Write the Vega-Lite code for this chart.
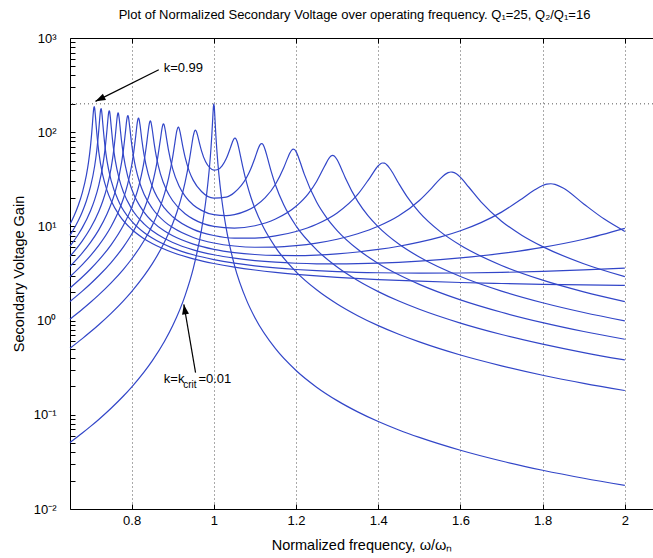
{
  "$schema": "https://vega.github.io/schema/vega-lite/v6.json",
  "width": 583,
  "height": 471,
  "autosize": "none",
  "padding": {"left": 70, "top": 38, "right": 0, "bottom": 49},
  "background": "white",
  "title": {
    "text": "Plot of Normalized Secondary Voltage over operating frequency.  Q₁=25, Q₂/Q₁=16",
    "font": "Liberation Sans", "fontSize": 13, "fontWeight": "normal", "color": "black",
    "anchor": "middle", "frame": "group", "offset": 10, "dx": -7
  },
  "config": {
    "view": {"stroke": null},
    "font": "Liberation Sans",
    "axis": {
      "domainColor": "black", "tickColor": "black", "labelColor": "black", "titleColor": "black",
      "labelFont": "Liberation Sans", "titleFont": "Liberation Sans",
      "titleFontWeight": "normal", "labelFontSize": 13, "titleFontSize": 14.5
    }
  },
  "datasets": {
    "curves": [
      {"k":"0.01","w":0.65,"G":0.0507},{"k":"0.01","w":0.68,"G":0.064},{"k":"0.01","w":0.70,"G":0.0753},{"k":"0.01","w":0.72,"G":0.0893},{"k":"0.01","w":0.75,"G":0.1174},{"k":"0.01","w":0.78,"G":0.1584},{"k":"0.01","w":0.80,"G":0.1971},{"k":"0.01","w":0.83,"G":0.2838},{"k":"0.01","w":0.85,"G":0.3735},{"k":"0.01","w":0.88,"G":0.6036},{"k":"0.01","w":0.90,"G":0.886},{"k":"0.01","w":0.93,"G":1.843},{"k":"0.01","w":0.95,"G":3.586},{"k":"0.01","w":0.97,"G":9.24},{"k":"0.01","w":0.98,"G":18.05},{"k":"0.01","w":0.985,"G":27.5},{"k":"0.01","w":0.99,"G":45.9},{"k":"0.01","w":0.993,"G":67.5},{"k":"0.01","w":0.995,"G":92.0},{"k":"0.01","w":0.997,"G":132.4},{"k":"0.01","w":0.998,"G":160.1},{"k":"0.01","w":0.999,"G":187.6},{"k":"0.01","w":1.0,"G":200},{"k":"0.01","w":1.001,"G":186.9},{"k":"0.01","w":1.002,"G":159.2},{"k":"0.01","w":1.003,"G":131.5},{"k":"0.01","w":1.005,"G":91.3},{"k":"0.01","w":1.007,"G":67.0},{"k":"0.01","w":1.01,"G":45.7},{"k":"0.01","w":1.015,"G":27.5},{"k":"0.01","w":1.02,"G":18.26},{"k":"0.01","w":1.03,"G":9.57},{"k":"0.01","w":1.05,"G":3.89},{"k":"0.01","w":1.08,"G":1.63},{"k":"0.01","w":1.10,"G":1.073},{"k":"0.01","w":1.15,"G":0.503},{"k":"0.01","w":1.20,"G":0.2953},{"k":"0.01","w":1.25,"G":0.1965},{"k":"0.01","w":1.30,"G":0.1414},{"k":"0.01","w":1.35,"G":0.1074},{"k":"0.01","w":1.40,"G":0.0848},{"k":"0.01","w":1.45,"G":0.069},{"k":"0.01","w":1.50,"G":0.0575},{"k":"0.01","w":1.60,"G":0.042},{"k":"0.01","w":1.70,"G":0.0323},{"k":"0.01","w":1.80,"G":0.0258},{"k":"0.01","w":1.90,"G":0.0212},{"k":"0.01","w":2.00,"G":0.0178},

      {"k":"0.1","w":0.65,"G":0.509},{"k":"0.1","w":0.68,"G":0.644},{"k":"0.1","w":0.70,"G":0.760},{"k":"0.1","w":0.72,"G":0.904},{"k":"0.1","w":0.75,"G":1.194},{"k":"0.1","w":0.78,"G":1.623},{"k":"0.1","w":0.80,"G":2.034},{"k":"0.1","w":0.83,"G":2.981},{"k":"0.1","w":0.85,"G":4.001},{"k":"0.1","w":0.88,"G":6.816},{"k":"0.1","w":0.90,"G":10.73},{"k":"0.1","w":0.91,"G":14.14},{"k":"0.1","w":0.92,"G":19.6},{"k":"0.1","w":0.93,"G":29.33},{"k":"0.1","w":0.94,"G":49.4},{"k":"0.1","w":0.945,"G":67.5},{"k":"0.1","w":0.95,"G":91.3},{"k":"0.1","w":0.954,"G":104.4},{"k":"0.1","w":0.955,"G":105.0},{"k":"0.1","w":0.956,"G":104.5},{"k":"0.1","w":0.958,"G":100.5},{"k":"0.1","w":0.96,"G":94.1},{"k":"0.1","w":0.965,"G":76.6},{"k":"0.1","w":0.97,"G":63.4},{"k":"0.1","w":0.98,"G":48.5},{"k":"0.1","w":0.99,"G":42.0},{"k":"0.1","w":1.00,"G":39.6},{"k":"0.1","w":1.01,"G":40.2},{"k":"0.1","w":1.02,"G":43.9},{"k":"0.1","w":1.03,"G":52.2},{"k":"0.1","w":1.04,"G":67.8},{"k":"0.1","w":1.045,"G":78.4},{"k":"0.1","w":1.05,"G":86.2},{"k":"0.1","w":1.0515,"G":86.7},{"k":"0.1","w":1.054,"G":84.8},{"k":"0.1","w":1.057,"G":78.6},{"k":"0.1","w":1.06,"G":70.0},{"k":"0.1","w":1.065,"G":55.4},{"k":"0.1","w":1.07,"G":43.7},{"k":"0.1","w":1.08,"G":28.8},{"k":"0.1","w":1.09,"G":20.52},{"k":"0.1","w":1.10,"G":15.49},{"k":"0.1","w":1.12,"G":9.90},{"k":"0.1","w":1.15,"G":6.00},{"k":"0.1","w":1.20,"G":3.296},{"k":"0.1","w":1.25,"G":2.125},{"k":"0.1","w":1.30,"G":1.502},{"k":"0.1","w":1.35,"G":1.128},{"k":"0.1","w":1.40,"G":0.884},{"k":"0.1","w":1.45,"G":0.716},{"k":"0.1","w":1.50,"G":0.594},{"k":"0.1","w":1.60,"G":0.431},{"k":"0.1","w":1.70,"G":0.331},{"k":"0.1","w":1.80,"G":0.263},{"k":"0.1","w":1.90,"G":0.216},{"k":"0.1","w":2.00,"G":0.181},

      {"k":"0.2","w":0.65,"G":1.035},{"k":"0.2","w":0.68,"G":1.318},{"k":"0.2","w":0.70,"G":1.564},{"k":"0.2","w":0.72,"G":1.873},{"k":"0.2","w":0.75,"G":2.514},{"k":"0.2","w":0.78,"G":3.505},{"k":"0.2","w":0.80,"G":4.507},{"k":"0.2","w":0.83,"G":7.04},{"k":"0.2","w":0.85,"G":10.19},{"k":"0.2","w":0.865,"G":14.35},{"k":"0.2","w":0.88,"G":22.24},{"k":"0.2","w":0.89,"G":32.7},{"k":"0.2","w":0.90,"G":55.0},{"k":"0.2","w":0.905,"G":76.2},{"k":"0.2","w":0.91,"G":103.7},{"k":"0.2","w":0.913,"G":113.1},{"k":"0.2","w":0.914,"G":113.1},{"k":"0.2","w":0.915,"G":111.4},{"k":"0.2","w":0.918,"G":99.7},{"k":"0.2","w":0.92,"G":89.8},{"k":"0.2","w":0.925,"G":68.4},{"k":"0.2","w":0.93,"G":54.3},{"k":"0.2","w":0.94,"G":38.65},{"k":"0.2","w":0.95,"G":30.8},{"k":"0.2","w":0.97,"G":23.45},{"k":"0.2","w":1.00,"G":19.95},{"k":"0.2","w":1.03,"G":20.44},{"k":"0.2","w":1.05,"G":22.89},{"k":"0.2","w":1.08,"G":33.2},{"k":"0.2","w":1.09,"G":40.88},{"k":"0.2","w":1.10,"G":53.3},{"k":"0.2","w":1.11,"G":70.3},{"k":"0.2","w":1.113,"G":74.2},{"k":"0.2","w":1.116,"G":75.8},{"k":"0.2","w":1.118,"G":75.3},{"k":"0.2","w":1.122,"G":70.5},{"k":"0.2","w":1.125,"G":64.8},{"k":"0.2","w":1.13,"G":54.35},{"k":"0.2","w":1.14,"G":37.7},{"k":"0.2","w":1.15,"G":27.5},{"k":"0.2","w":1.17,"G":16.95},{"k":"0.2","w":1.20,"G":10.13},{"k":"0.2","w":1.25,"G":5.64},{"k":"0.2","w":1.30,"G":3.705},{"k":"0.2","w":1.35,"G":2.665},{"k":"0.2","w":1.40,"G":2.032},{"k":"0.2","w":1.45,"G":1.613},{"k":"0.2","w":1.50,"G":1.319},{"k":"0.2","w":1.60,"G":0.941},{"k":"0.2","w":1.70,"G":0.712},{"k":"0.2","w":1.80,"G":0.563},{"k":"0.2","w":1.90,"G":0.458},{"k":"0.2","w":2.00,"G":0.382},

      {"k":"0.3","w":0.65,"G":1.596},{"k":"0.3","w":0.68,"G":2.055},{"k":"0.3","w":0.70,"G":2.463},{"k":"0.3","w":0.72,"G":2.991},{"k":"0.3","w":0.75,"G":4.135},{"k":"0.3","w":0.78,"G":6.063},{"k":"0.3","w":0.80,"G":8.24},{"k":"0.3","w":0.83,"G":15.09},{"k":"0.3","w":0.85,"G":27.8},{"k":"0.3","w":0.86,"G":43.8},{"k":"0.3","w":0.87,"G":83.9},{"k":"0.3","w":0.875,"G":116.1},{"k":"0.3","w":0.877,"G":122.3},{"k":"0.3","w":0.878,"G":122.1},{"k":"0.3","w":0.879,"G":119.6},{"k":"0.3","w":0.882,"G":103.7},{"k":"0.3","w":0.885,"G":85.6},{"k":"0.3","w":0.89,"G":63.2},{"k":"0.3","w":0.90,"G":40.6},{"k":"0.3","w":0.915,"G":27.07},{"k":"0.3","w":0.93,"G":21.0},{"k":"0.3","w":0.95,"G":16.9},{"k":"0.3","w":0.97,"G":14.8},{"k":"0.3","w":1.00,"G":13.32},{"k":"0.3","w":1.03,"G":13.03},{"k":"0.3","w":1.05,"G":13.35},{"k":"0.3","w":1.08,"G":14.69},{"k":"0.3","w":1.10,"G":16.41},{"k":"0.3","w":1.125,"G":20.21},{"k":"0.3","w":1.15,"G":28.06},{"k":"0.3","w":1.17,"G":41.95},{"k":"0.3","w":1.18,"G":53.7},{"k":"0.3","w":1.185,"G":60.1},{"k":"0.3","w":1.19,"G":65.0},{"k":"0.3","w":1.193,"G":66.1},{"k":"0.3","w":1.196,"G":65.6},{"k":"0.3","w":1.20,"G":62.2},{"k":"0.3","w":1.205,"G":55.5},{"k":"0.3","w":1.21,"G":48.2},{"k":"0.3","w":1.22,"G":35.9},{"k":"0.3","w":1.25,"G":18.13},{"k":"0.3","w":1.275,"G":12.25},{"k":"0.3","w":1.30,"G":9.04},{"k":"0.3","w":1.35,"G":5.716},{"k":"0.3","w":1.40,"G":4.048},{"k":"0.3","w":1.45,"G":3.065},{"k":"0.3","w":1.50,"G":2.426},{"k":"0.3","w":1.60,"G":1.660},{"k":"0.3","w":1.70,"G":1.226},{"k":"0.3","w":1.80,"G":0.952},{"k":"0.3","w":1.90,"G":0.766},{"k":"0.3","w":2.00,"G":0.634},

      {"k":"0.4","w":0.65,"G":2.216},{"k":"0.4","w":0.68,"G":2.901},{"k":"0.4","w":0.70,"G":3.533},{"k":"0.4","w":0.72,"G":4.384},{"k":"0.4","w":0.75,"G":6.377},{"k":"0.4","w":0.78,"G":10.29},{"k":"0.4","w":0.80,"G":15.81},{"k":"0.4","w":0.82,"G":29.74},{"k":"0.4","w":0.83,"G":48.5},{"k":"0.4","w":0.835,"G":67.6},{"k":"0.4","w":0.84,"G":100.4},{"k":"0.4","w":0.843,"G":123.6},{"k":"0.4","w":0.845,"G":131.6},{"k":"0.4","w":0.846,"G":131.2},{"k":"0.4","w":0.847,"G":127.8},{"k":"0.4","w":0.85,"G":107.5},{"k":"0.4","w":0.855,"G":74.8},{"k":"0.4","w":0.86,"G":55.3},{"k":"0.4","w":0.87,"G":36.1},{"k":"0.4","w":0.885,"G":24.23},{"k":"0.4","w":0.90,"G":18.71},{"k":"0.4","w":0.93,"G":13.62},{"k":"0.4","w":0.95,"G":11.94},{"k":"0.4","w":1.00,"G":9.99},{"k":"0.4","w":1.05,"G":9.58},{"k":"0.4","w":1.10,"G":10.16},{"k":"0.4","w":1.15,"G":11.96},{"k":"0.4","w":1.20,"G":16.34},{"k":"0.4","w":1.23,"G":22.3},{"k":"0.4","w":1.25,"G":30.0},{"k":"0.4","w":1.27,"G":44.0},{"k":"0.4","w":1.28,"G":52.75},{"k":"0.4","w":1.285,"G":55.8},{"k":"0.4","w":1.289,"G":56.7},{"k":"0.4","w":1.293,"G":55.85},{"k":"0.4","w":1.30,"G":51.0},{"k":"0.4","w":1.31,"G":41.2},{"k":"0.4","w":1.32,"G":32.7},{"k":"0.4","w":1.35,"G":18.44},{"k":"0.4","w":1.375,"G":13.02},{"k":"0.4","w":1.40,"G":9.90},{"k":"0.4","w":1.45,"G":6.504},{"k":"0.4","w":1.50,"G":4.728},{"k":"0.4","w":1.60,"G":2.937},{"k":"0.4","w":1.70,"G":2.058},{"k":"0.4","w":1.80,"G":1.547},{"k":"0.4","w":1.90,"G":1.218},{"k":"0.4","w":2.00,"G":0.991},

      {"k":"0.5","w":0.65,"G":2.923},{"k":"0.5","w":0.68,"G":3.922},{"k":"0.5","w":0.70,"G":4.892},{"k":"0.5","w":0.72,"G":6.281},{"k":"0.5","w":0.75,"G":9.977},{"k":"0.5","w":0.77,"G":15.11},{"k":"0.5","w":0.78,"G":19.75},{"k":"0.5","w":0.79,"G":27.7},{"k":"0.5","w":0.80,"G":44.3},{"k":"0.5","w":0.805,"G":61.1},{"k":"0.5","w":0.81,"G":91.8},{"k":"0.5","w":0.814,"G":128.4},{"k":"0.5","w":0.816,"G":140.4},{"k":"0.5","w":0.817,"G":140.9},{"k":"0.5","w":0.818,"G":137.5},{"k":"0.5","w":0.82,"G":122.4},{"k":"0.5","w":0.825,"G":81.7},{"k":"0.5","w":0.83,"G":58.1},{"k":"0.5","w":0.84,"G":36.3},{"k":"0.5","w":0.85,"G":26.65},{"k":"0.5","w":0.88,"G":15.59},{"k":"0.5","w":0.90,"G":12.64},{"k":"0.5","w":0.95,"G":9.29},{"k":"0.5","w":1.00,"G":8.00},{"k":"0.5","w":1.05,"G":7.51},{"k":"0.5","w":1.10,"G":7.51},{"k":"0.5","w":1.15,"G":7.92},{"k":"0.5","w":1.20,"G":8.83},{"k":"0.5","w":1.25,"G":10.54},{"k":"0.5","w":1.30,"G":13.89},{"k":"0.5","w":1.35,"G":21.85},{"k":"0.5","w":1.38,"G":33.0},{"k":"0.5","w":1.40,"G":44.0},{"k":"0.5","w":1.405,"G":46.1},{"k":"0.5","w":1.41,"G":47.1},{"k":"0.5","w":1.415,"G":46.9},{"k":"0.5","w":1.42,"G":45.5},{"k":"0.5","w":1.43,"G":40.2},{"k":"0.5","w":1.45,"G":28.5},{"k":"0.5","w":1.47,"G":20.7},{"k":"0.5","w":1.50,"G":14.08},{"k":"0.5","w":1.55,"G":8.85},{"k":"0.5","w":1.60,"G":6.30},{"k":"0.5","w":1.70,"G":3.850},{"k":"0.5","w":1.80,"G":2.687},{"k":"0.5","w":1.90,"G":2.019},{"k":"0.5","w":2.00,"G":1.592},

      {"k":"0.6","w":0.65,"G":3.764},{"k":"0.6","w":0.68,"G":5.228},{"k":"0.6","w":0.70,"G":6.760},{"k":"0.6","w":0.72,"G":9.176},{"k":"0.6","w":0.74,"G":13.51},{"k":"0.6","w":0.75,"G":17.27},{"k":"0.6","w":0.76,"G":23.42},{"k":"0.6","w":0.77,"G":35.2},{"k":"0.6","w":0.78,"G":65.0},{"k":"0.6","w":0.785,"G":101.5},{"k":"0.6","w":0.788,"G":134.1},{"k":"0.6","w":0.79,"G":149.4},{"k":"0.6","w":0.791,"G":150.3},{"k":"0.6","w":0.792,"G":146.0},{"k":"0.6","w":0.795,"G":116.7},{"k":"0.6","w":0.80,"G":75.3},{"k":"0.6","w":0.805,"G":53.6},{"k":"0.6","w":0.81,"G":41.5},{"k":"0.6","w":0.82,"G":28.7},{"k":"0.6","w":0.83,"G":22.1},{"k":"0.6","w":0.85,"G":15.58},{"k":"0.6","w":0.88,"G":11.25},{"k":"0.6","w":0.90,"G":9.71},{"k":"0.6","w":0.95,"G":7.63},{"k":"0.6","w":1.00,"G":6.665},{"k":"0.6","w":1.05,"G":6.19},{"k":"0.6","w":1.10,"G":6.01},{"k":"0.6","w":1.15,"G":6.03},{"k":"0.6","w":1.20,"G":6.24},{"k":"0.6","w":1.25,"G":6.65},{"k":"0.6","w":1.30,"G":7.31},{"k":"0.6","w":1.35,"G":8.36},{"k":"0.6","w":1.40,"G":10.04},{"k":"0.6","w":1.45,"G":12.97},{"k":"0.6","w":1.50,"G":18.84},{"k":"0.6","w":1.53,"G":25.5},{"k":"0.6","w":1.55,"G":31.8},{"k":"0.6","w":1.57,"G":37.2},{"k":"0.6","w":1.577,"G":37.8},{"k":"0.6","w":1.58,"G":37.7},{"k":"0.6","w":1.59,"G":36.2},{"k":"0.6","w":1.60,"G":33.2},{"k":"0.6","w":1.62,"G":26.2},{"k":"0.6","w":1.65,"G":18.23},{"k":"0.6","w":1.70,"G":11.36},{"k":"0.6","w":1.75,"G":8.02},{"k":"0.6","w":1.80,"G":6.10},{"k":"0.6","w":1.90,"G":4.017},{"k":"0.6","w":2.00,"G":2.928},

      {"k":"0.7","w":0.65,"G":4.804},{"k":"0.7","w":0.68,"G":7.017},{"k":"0.7","w":0.70,"G":9.607},{"k":"0.7","w":0.72,"G":14.40},{"k":"0.7","w":0.73,"G":18.72},{"k":"0.7","w":0.74,"G":26.14},{"k":"0.7","w":0.75,"G":41.65},{"k":"0.7","w":0.755,"G":57.7},{"k":"0.7","w":0.76,"G":89.0},{"k":"0.7","w":0.763,"G":121.9},{"k":"0.7","w":0.765,"G":147.2},{"k":"0.7","w":0.766,"G":156.4},{"k":"0.7","w":0.767,"G":160.0},{"k":"0.7","w":0.768,"G":156.9},{"k":"0.7","w":0.77,"G":136.4},{"k":"0.7","w":0.773,"G":101.2},{"k":"0.7","w":0.775,"G":83.7},{"k":"0.7","w":0.78,"G":57.1},{"k":"0.7","w":0.79,"G":34.55},{"k":"0.7","w":0.80,"G":24.95},{"k":"0.7","w":0.83,"G":14.17},{"k":"0.7","w":0.85,"G":11.30},{"k":"0.7","w":0.88,"G":8.92},{"k":"0.7","w":0.90,"G":7.945},{"k":"0.7","w":0.95,"G":6.485},{"k":"0.7","w":1.00,"G":5.713},{"k":"0.7","w":1.05,"G":5.275},{"k":"0.7","w":1.10,"G":5.031},{"k":"0.7","w":1.15,"G":4.916},{"k":"0.7","w":1.20,"G":4.898},{"k":"0.7","w":1.25,"G":4.966},{"k":"0.7","w":1.30,"G":5.116},{"k":"0.7","w":1.35,"G":5.352},{"k":"0.7","w":1.40,"G":5.690},{"k":"0.7","w":1.45,"G":6.158},{"k":"0.7","w":1.50,"G":6.801},{"k":"0.7","w":1.55,"G":7.700},{"k":"0.7","w":1.60,"G":8.998},{"k":"0.7","w":1.65,"G":10.97},{"k":"0.7","w":1.70,"G":14.18},{"k":"0.7","w":1.75,"G":19.70},{"k":"0.7","w":1.78,"G":24.34},{"k":"0.7","w":1.80,"G":27.19},{"k":"0.7","w":1.81,"G":28.07},{"k":"0.7","w":1.82,"G":28.37},{"k":"0.7","w":1.83,"G":27.99},{"k":"0.7","w":1.85,"G":25.57},{"k":"0.7","w":1.90,"G":17.31},{"k":"0.7","w":1.95,"G":11.95},{"k":"0.7","w":2.00,"G":8.849},

      {"k":"0.8","w":0.65,"G":6.160},{"k":"0.8","w":0.67,"G":8.207},{"k":"0.8","w":0.68,"G":9.702},{"k":"0.8","w":0.70,"G":14.66},{"k":"0.8","w":0.71,"G":19.22},{"k":"0.8","w":0.72,"G":27.26},{"k":"0.8","w":0.73,"G":44.98},{"k":"0.8","w":0.735,"G":64.6},{"k":"0.8","w":0.74,"G":106.1},{"k":"0.8","w":0.742,"G":133.6},{"k":"0.8","w":0.744,"G":161.3},{"k":"0.8","w":0.745,"G":168.7},{"k":"0.8","w":0.746,"G":167.9},{"k":"0.8","w":0.748,"G":146.2},{"k":"0.8","w":0.75,"G":117.9},{"k":"0.8","w":0.755,"G":72.0},{"k":"0.8","w":0.76,"G":50.5},{"k":"0.8","w":0.77,"G":31.5},{"k":"0.8","w":0.78,"G":23.12},{"k":"0.8","w":0.80,"G":15.41},{"k":"0.8","w":0.83,"G":10.64},{"k":"0.8","w":0.85,"G":8.99},{"k":"0.8","w":0.88,"G":7.44},{"k":"0.8","w":0.90,"G":6.752},{"k":"0.8","w":0.95,"G":5.642},{"k":"0.8","w":1.00,"G":4.999},{"k":"0.8","w":1.05,"G":4.597},{"k":"0.8","w":1.10,"G":4.336},{"k":"0.8","w":1.15,"G":4.167},{"k":"0.8","w":1.20,"G":4.065},{"k":"0.8","w":1.25,"G":4.010},{"k":"0.8","w":1.30,"G":3.997},{"k":"0.8","w":1.35,"G":4.019},{"k":"0.8","w":1.40,"G":4.074},{"k":"0.8","w":1.50,"G":4.280},{"k":"0.8","w":1.60,"G":4.630},{"k":"0.8","w":1.70,"G":5.169},{"k":"0.8","w":1.80,"G":5.994},{"k":"0.8","w":1.90,"G":7.305},{"k":"0.8","w":2.00,"G":9.536},

      {"k":"0.9","w":0.65,"G":8.040},{"k":"0.9","w":0.67,"G":11.47},{"k":"0.9","w":0.68,"G":14.32},{"k":"0.9","w":0.69,"G":18.74},{"k":"0.9","w":0.70,"G":26.55},{"k":"0.9","w":0.71,"G":43.8},{"k":"0.9","w":0.715,"G":63.1},{"k":"0.9","w":0.72,"G":105.1},{"k":"0.9","w":0.722,"G":134.7},{"k":"0.9","w":0.724,"G":167.5},{"k":"0.9","w":0.725,"G":177.4},{"k":"0.9","w":0.726,"G":177.6},{"k":"0.9","w":0.728,"G":152.8},{"k":"0.9","w":0.73,"G":120.7},{"k":"0.9","w":0.735,"G":71.6},{"k":"0.9","w":0.74,"G":49.7},{"k":"0.9","w":0.75,"G":30.8},{"k":"0.9","w":0.77,"G":17.86},{"k":"0.9","w":0.80,"G":11.38},{"k":"0.9","w":0.83,"G":8.62},{"k":"0.9","w":0.85,"G":7.52},{"k":"0.9","w":0.90,"G":5.886},{"k":"0.9","w":0.95,"G":4.996},{"k":"0.9","w":1.00,"G":4.444},{"k":"0.9","w":1.05,"G":4.074},{"k":"0.9","w":1.10,"G":3.815},{"k":"0.9","w":1.15,"G":3.627},{"k":"0.9","w":1.20,"G":3.488},{"k":"0.9","w":1.25,"G":3.386},{"k":"0.9","w":1.30,"G":3.310},{"k":"0.9","w":1.40,"G":3.219},{"k":"0.9","w":1.50,"G":3.187},{"k":"0.9","w":1.60,"G":3.200},{"k":"0.9","w":1.70,"G":3.249},{"k":"0.9","w":1.80,"G":3.332},{"k":"0.9","w":1.90,"G":3.450},{"k":"0.9","w":2.00,"G":3.605},

      {"k":"0.99","w":0.65,"G":10.53},{"k":"0.99","w":0.66,"G":12.97},{"k":"0.99","w":0.67,"G":16.66},{"k":"0.99","w":0.68,"G":22.85},{"k":"0.99","w":0.69,"G":35.3},{"k":"0.99","w":0.695,"G":47.8},{"k":"0.99","w":0.70,"G":72.0},{"k":"0.99","w":0.703,"G":100.1},{"k":"0.99","w":0.705,"G":129.7},{"k":"0.99","w":0.707,"G":167.0},{"k":"0.99","w":0.708,"G":182.1},{"k":"0.99","w":0.709,"G":187.3},{"k":"0.99","w":0.71,"G":180.1},{"k":"0.99","w":0.712,"G":145.5},{"k":"0.99","w":0.715,"G":99.8},{"k":"0.99","w":0.72,"G":61.8},{"k":"0.99","w":0.73,"G":34.5},{"k":"0.99","w":0.74,"G":24.13},{"k":"0.99","w":0.75,"G":18.69},{"k":"0.99","w":0.77,"G":13.11},{"k":"0.99","w":0.80,"G":9.315},{"k":"0.99","w":0.83,"G":7.403},{"k":"0.99","w":0.85,"G":6.582},{"k":"0.99","w":0.90,"G":5.284},{"k":"0.99","w":0.95,"G":4.530},{"k":"0.99","w":1.00,"G":4.040},{"k":"0.99","w":1.05,"G":3.697},{"k":"0.99","w":1.10,"G":3.445},{"k":"0.99","w":1.15,"G":3.252},{"k":"0.99","w":1.20,"G":3.101},{"k":"0.99","w":1.25,"G":2.980},{"k":"0.99","w":1.30,"G":2.880},{"k":"0.99","w":1.40,"G":2.728},{"k":"0.99","w":1.50,"G":2.619},{"k":"0.99","w":1.60,"G":2.538},{"k":"0.99","w":1.70,"G":2.477},{"k":"0.99","w":1.80,"G":2.430},{"k":"0.99","w":1.90,"G":2.392},{"k":"0.99","w":2.00,"G":2.363}
    ],
    "refline": [{"G": 200}],
    "arrows": [
      {"w": 0.866, "G": 461, "w2": 0.712, "G2": 212.6},
      {"w": 0.9555, "G": 0.2805, "w2": 0.927, "G2": 1.485}
    ],
    "head1": [{"w": 0.712, "G": 212.6}],
    "head2": [{"w": 0.927, "G": 1.485}],
    "labels": [
      {"w": 0.8778, "G": 484, "label": "k=0.99"},
      {"w": 0.8783, "G": 0.242, "label": "k=k"},
      {"w": 0.9625, "G": 0.242, "label": "=0.01"}
    ],
    "sublabels": [{"w": 0.9255, "G": 0.2055, "label": "crit"}]
  },
  "layer": [
    {
      "data": {"name": "curves"},
      "mark": {"type": "line", "color": "#3246c8", "strokeWidth": 1.2, "interpolate": "monotone"},
      "encoding": {
        "x": {
          "field": "w", "type": "quantitative",
          "scale": {"domain": [0.65, 2.0685], "nice": false, "zero": false},
          "axis": {
            "orient": "bottom", "values": [0.8, 1, 1.2, 1.4, 1.6, 1.8, 2], "format": "~g",
            "title": "Normalized frequency, ω/ωₙ",
            "grid": true, "gridDash": [1, 3], "gridColor": "#555", "gridOpacity": 1, "gridWidth": 1,
            "tickSize": -5, "labelPadding": 10, "titlePadding": 11, "labelFlush": false
          }
        },
        "y": {
          "field": "G", "type": "quantitative",
          "scale": {"type": "log", "domain": [0.01, 1000], "nice": false},
          "axis": {
            "values": [0.01,0.02,0.03,0.04,0.05,0.06,0.07,0.08,0.09,0.1,0.2,0.3,0.4,0.5,0.6,0.7,0.8,0.9,1,2,3,4,5,6,7,8,9,10,20,30,40,50,60,70,80,90,100,200,300,400,500,600,700,800,900,1000],
            "labelExpr": "datum.value == 1000 ? '10³' : datum.value == 100 ? '10²' : datum.value == 10 ? '10¹' : datum.value == 1 ? '10⁰' : datum.value == 0.1 ? '10⁻¹' : datum.value == 0.01 ? '10⁻²' : ''",
            "title": "Secondary Voltage Gain",
            "grid": false, "tickSize": -5, "labelPadding": 19, "titlePadding": 7,
            "labelOverlap": false, "labelFlush": false, "labelBaseline": "middle"
          }
        },
        "detail": {"field": "k", "type": "nominal"}
      }
    },
    {
      "data": {"name": "refline"},
      "mark": {"type": "rule", "color": "#555", "strokeDash": [1, 3], "strokeWidth": 1},
      "encoding": {"y": {"field": "G", "type": "quantitative"}}
    },
    {
      "data": {"name": "arrows"},
      "mark": {"type": "rule", "color": "black", "strokeWidth": 1.2},
      "encoding": {
        "x": {"field": "w", "type": "quantitative",
          "axis": {"orient": "top", "values": [0.8, 1, 1.2, 1.4, 1.6, 1.8, 2], "labels": false, "title": null, "grid": false, "tickSize": -5, "domain": true}},
        "y": {"field": "G", "type": "quantitative"},
        "x2": {"field": "w2"},
        "y2": {"field": "G2"}
      }
    },
    {
      "data": {"name": "head1"},
      "mark": {"type": "point", "shape": "M0,0L-0.35,1L0.35,1Z", "filled": true, "color": "black", "opacity": 1, "size": 400, "angle": 243.4},
      "encoding": {
        "x": {"field": "w", "type": "quantitative", "axis": null},
        "y": {"field": "G", "type": "quantitative"}
      }
    },
    {
      "data": {"name": "head2"},
      "mark": {"type": "point", "shape": "M0,0L-0.35,1L0.35,1Z", "filled": true, "color": "black", "opacity": 1, "size": 400, "angle": 350.3},
      "encoding": {
        "x": {"field": "w", "type": "quantitative", "axis": null},
        "y": {"field": "G", "type": "quantitative"}
      }
    },
    {
      "data": {"name": "labels"},
      "mark": {"type": "text", "align": "left", "baseline": "middle", "fontSize": 13, "font": "Liberation Sans", "color": "black"},
      "encoding": {
        "x": {"field": "w", "type": "quantitative", "axis": null},
        "y": {"field": "G", "type": "quantitative"},
        "text": {"field": "label"}
      }
    },
    {
      "data": {"name": "sublabels"},
      "mark": {"type": "text", "align": "left", "baseline": "middle", "fontSize": 10, "font": "Liberation Sans", "color": "black"},
      "encoding": {
        "x": {"field": "w", "type": "quantitative", "axis": null},
        "y": {"field": "G", "type": "quantitative"},
        "text": {"field": "label"}
      }
    }
  ],
  "resolve": {"axis": {"x": "independent"}}
}
